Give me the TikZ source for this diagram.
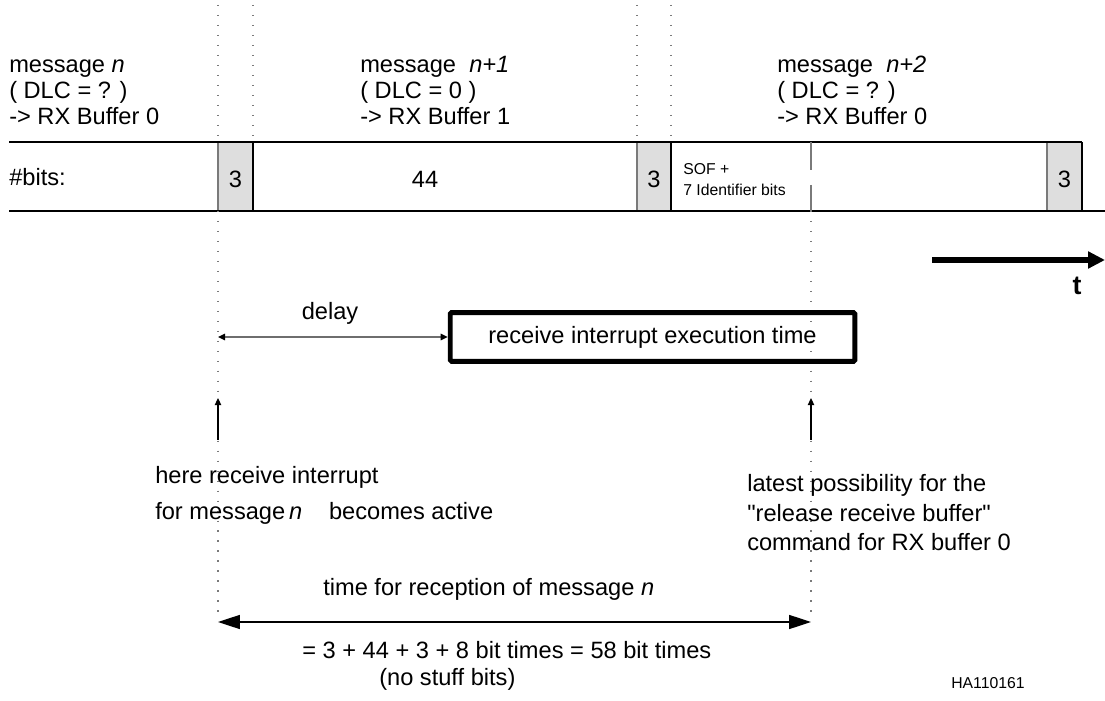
\documentclass[tikz,border=0pt]{standalone}
\usepackage{fontspec}
\setmainfont{Liberation Sans}
\newfontfamily\plainquote{Liberation Sans}
\usetikzlibrary{arrows.meta}
\definecolor{bitgrey}{HTML}{DEDEDE}
\definecolor{dotgrey}{HTML}{7A7A7A}
\definecolor{delaygrey}{HTML}{6E6E6E}
\tikzset{
	txt/.style={font=\fontsize{16.8}{18}\selectfont, inner sep=0pt, anchor=base west},
	small/.style={font=\fontsize{11.2}{13}\selectfont, inner sep=0pt, anchor=base west},
	dots/.style={dotgrey, line width=0.9pt, dash pattern=on 0.9pt off 6.2pt},
	upline/.style={line width=0.8pt, -{Triangle[length=5pt,width=4.5pt]}},
	bigboth/.style={line width=0.9pt, {Triangle[length=15.6pt,width=10pt]}-{Triangle[length=15.6pt,width=10pt]}}
}

\begin{document}
\begin{tikzpicture}[x=0.025cm, y=-0.025cm]
			%%%%% START %%%%%
			\useasboundingbox (0,0) rectangle (1105,701);
			
			% bit row
			\foreach \a/\b in {218/253, 637/671, 1047/1082}
			{
				\fill[bitgrey] (\a,142) rectangle (\b,211);
				\draw[line width=0.9pt, dotgrey] (\a,142) -- (\a,211);
				\draw[line width=0.9pt] (\b,142) -- (\b,211);
			}
			\draw[line width=0.9pt] (9,142) -- (1082,142);
			\draw[line width=0.9pt] (9,211) -- (1105,211);
			\draw[line width=0.9pt, dotgrey] (811,142) -- (811,170);
			\draw[line width=0.9pt, dotgrey] (811,185) -- (811,211);
			
			% dotted time marks
			\foreach \a in {218, 253, 637, 671}
				\draw[dots] (\a,5) -- (\a,142);
			\draw[dots] (218,211) -- (218,612);
			\draw[dots] (811,211) -- (811,612);
			
			% messages
			\foreach \x/\m/\d/\b [count=\i] in {9/{\textit{n}}/?/0, 360/{\ \textit{n+1}}/0/1, 777/{\ \textit{n+2}}/?/0}
			{
				\node[txt] (msg\i) at (\x,73) {message \m};
				\node[txt] (dlc\i) at (\x,99) {( DLC = \d{} )};
				\node[txt] (buf\i) at (\x,125) {-> RX Buffer \b};
			}
			
			\node[txt] (bits) at (9,186) {\#bits:};
			\node[txt, anchor=base] (crcA) at (235.5,188) {3};
			\node[txt, anchor=base] (data) at (425,188) {44};
			\node[txt, anchor=base] (crcB) at (654,188) {3};
			\node[txt, anchor=base] (crcC) at (1064.5,188) {3};
			\node[small] (sof) at (683,175) {SOF +};
			\node[small] (ident) at (683,196) {7 Identifier bits};
			
			% time axis
			\coordinate (tstart) at (932,260);
			\coordinate (tend) at (1105,260);
			\draw[line width=4.7pt, -{Triangle[length=12pt,width=11.5pt]}] (tstart) -- (tend);
			\node[font=\bfseries\fontsize{19}{20}\selectfont, inner sep=0pt, anchor=base] (tlabel) at (1077,295) {t};
			
			% interrupt
			\node[draw, line width=3.5pt, rounded corners=1pt, minimum width=287.7pt, minimum height=34.7pt, inner sep=0pt, font=\fontsize{16.8}{18}\selectfont] (rxbox) at (652.5,337) {receive interrupt execution time};
			\coordinate (irq) at (218,337);
			\draw[line width=1.5pt, delaygrey, {Triangle[length=5pt,width=4.5pt,black]}-{Triangle[length=5pt,width=4.5pt,black]}] (irq) -- (rxbox.west);
			\node[txt, anchor=base] (delay) at (330,320) {delay};
			
			\coordinate (irqfoot) at (218,440);
			\coordinate (irqtop) at (218,398);
			\draw[upline] (irqfoot) -- (irqtop);
			\coordinate (relfoot) at (811,440);
			\coordinate (reltop) at (811,398);
			\draw[upline] (relfoot) -- (reltop);
			
			\node[txt] (here) at (155,483) {here receive interrupt};
			\node[txt] (active) at (155,519) {for message\,\textit{n}\hspace{19pt}becomes active};
			
			\node[txt] (latest) at (747,491) {latest possibility for the};
			\node[txt] (release) at (747,521) {{\plainquote"}release receive buffer{\plainquote"}};
			\node[txt] (command) at (747,550) {command for RX buffer 0};
			
			% reception time
			\coordinate (recA) at (218,622);
			\coordinate (recB) at (811,622);
			\draw[bigboth] (recA) -- (recB);
			\node[txt] (rectime) at (323,595) {time for reception of message \textit{n}};
			\node[txt] (sum) at (302,658) {= 3 + 44 + 3 + 8 bit times = 58 bit times};
			\node[txt] (nostuff) at (379,685) {(no stuff bits)};
			
			\node[small] (figid) at (951,688) {HA110161};
			%%%%% END %%%%%
\end{tikzpicture}
\end{document}
